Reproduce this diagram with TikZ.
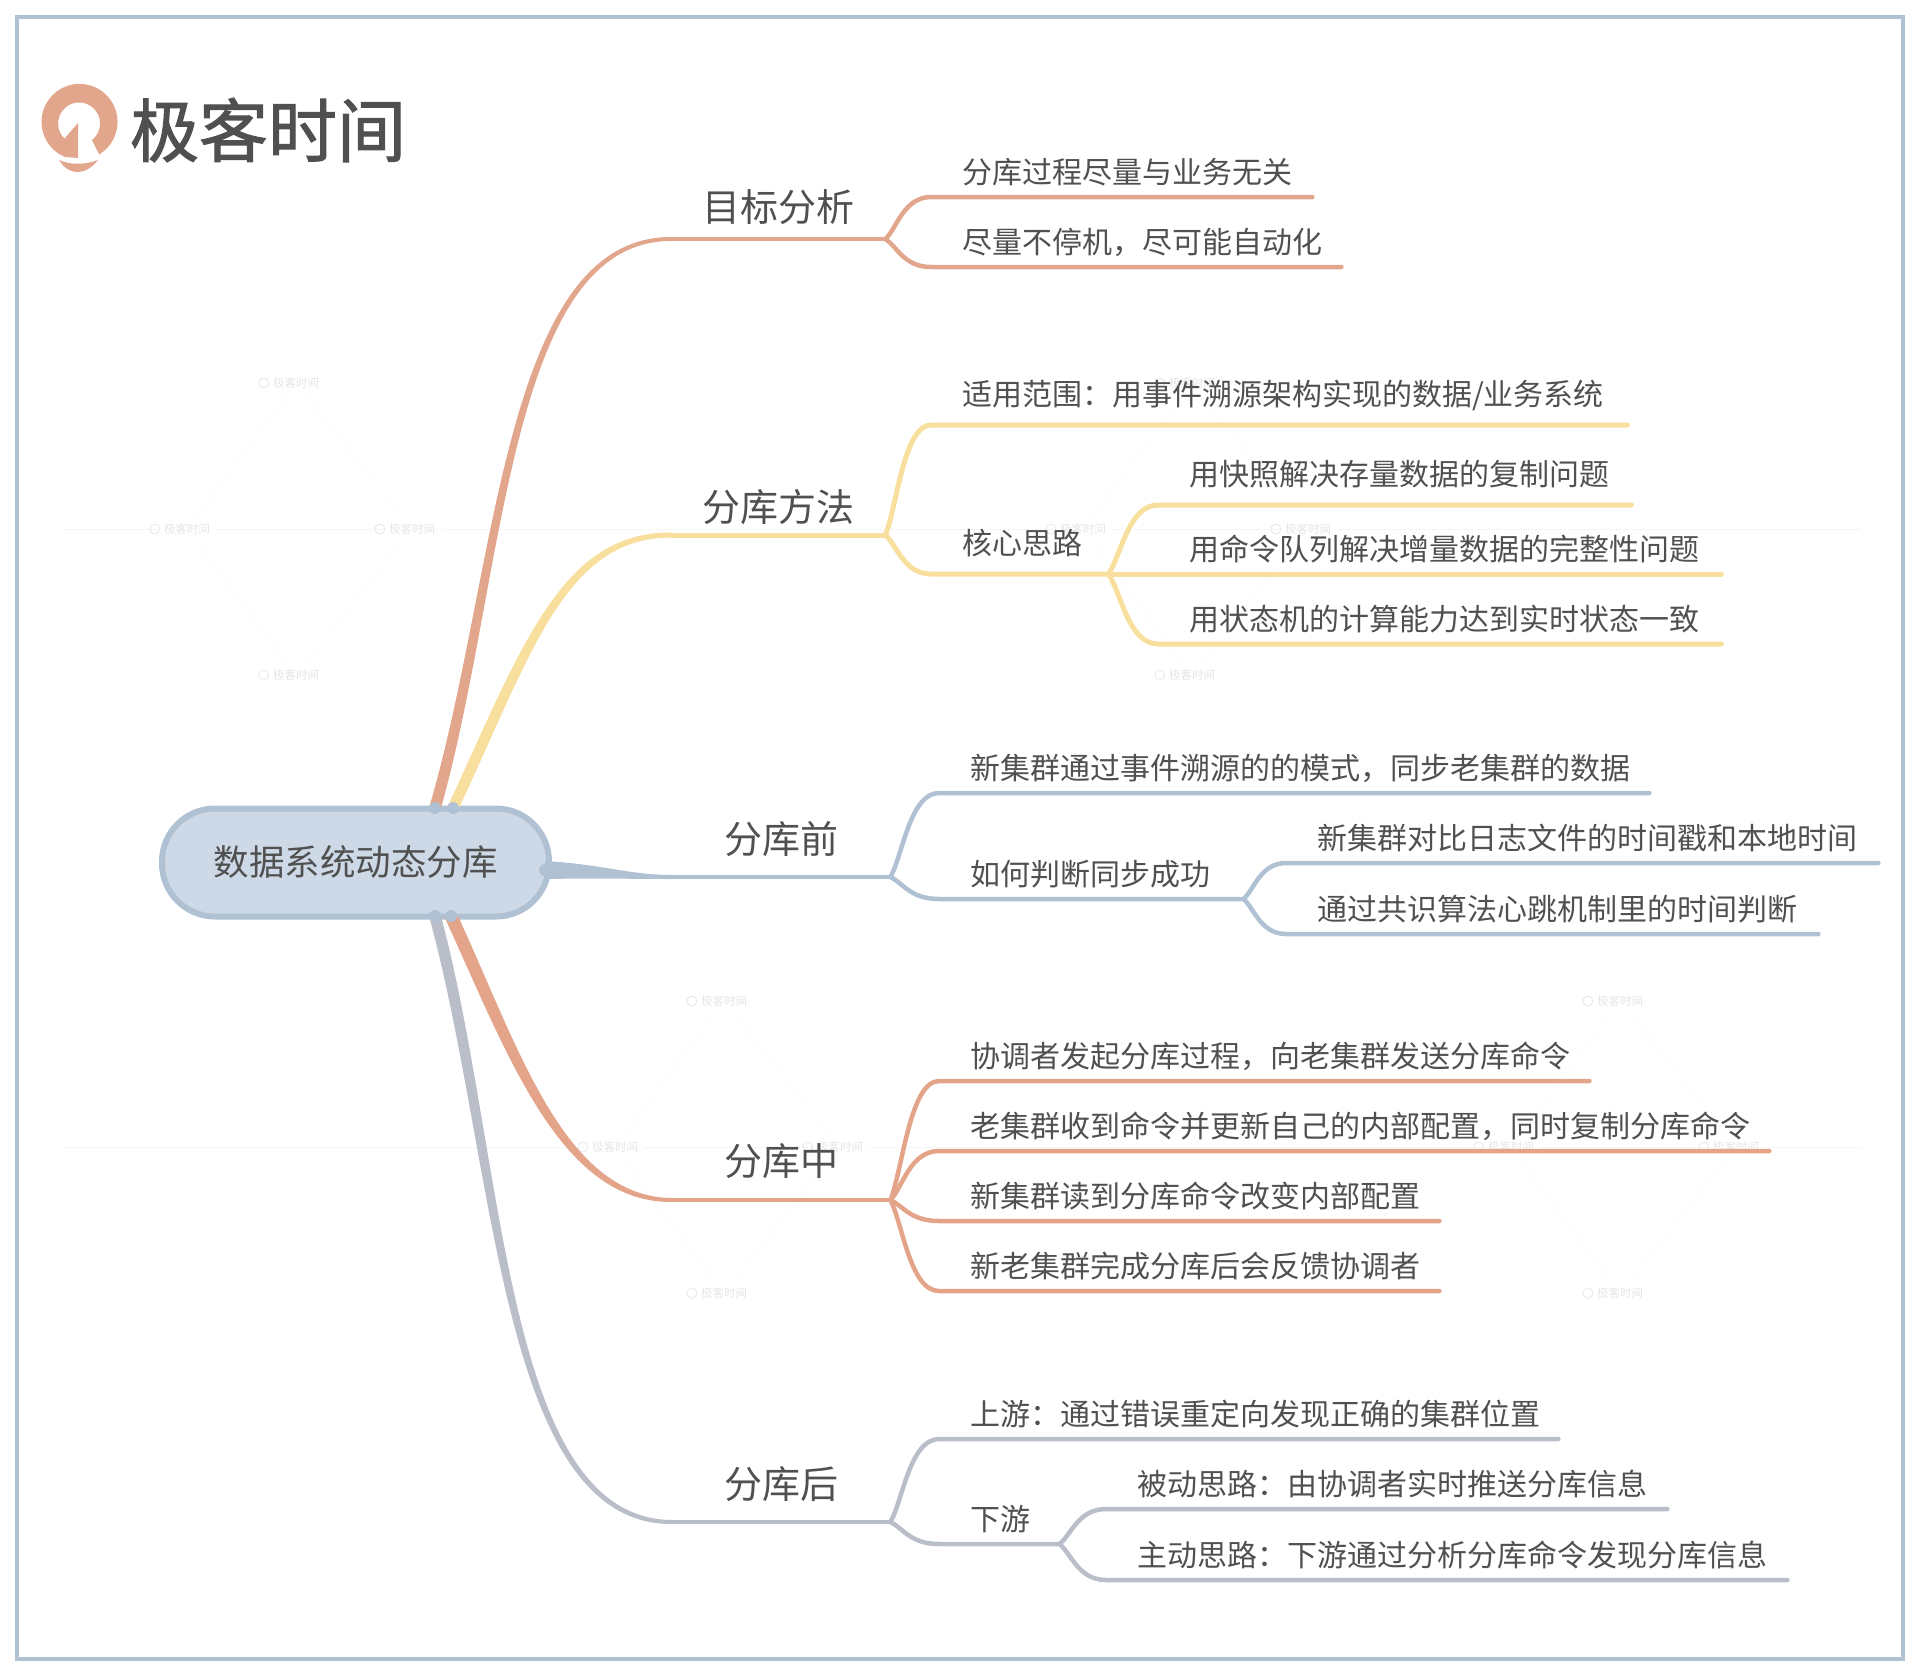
\documentclass[tikz,border=0pt]{standalone}
\usepackage{fontspec}
\setmainfont{Noto Sans CJK SC}
\newfontfamily\logofont[FakeBold=1.5]{Noto Sans CJK SC}
\usetikzlibrary{calc,positioning}
\definecolor{framecol}{HTML}{AFC1D3}
\definecolor{rootcol}{HTML}{CDD9E6}
\definecolor{textcol}{HTML}{505050}
\definecolor{redcol}{HTML}{E2A68D}
\definecolor{yellowcol}{HTML}{F8DF9D}
\definecolor{orangecol}{HTML}{E3A489}
\definecolor{greycol}{HTML}{B9BEC8}
\tikzstyle{leaf}=[inner sep=0pt,anchor=south west,align=left,text=textcol,text depth=13.5pt,font=\fontsize{30}{30}\selectfont]
\tikzstyle{tallleaf}=[leaf,text depth=19pt]
\tikzstyle{branch}=[leaf,align=center,font=\fontsize{38}{38}\selectfont]
\tikzstyle{wire}=[line width=4.5pt,line cap=round]
\tikzstyle{limb}=[to path={.. controls ($(\tikztostart)!0.25!(\tikztotarget)$) and ($(\tikztotarget)!0.6!(\tikztostart |- \tikztotarget)$) .. (\tikztotarget) \tikztonodes}]
\tikzstyle{stamp}=[text=black!10,font=\fontsize{11.5}{12}\selectfont,inner sep=6pt]
\tikzstyle{stampline}=[black!6,line width=0.6pt,densely dotted]
\begin{document}
\begin{tikzpicture}[x=1pt,y=-1pt]
\useasboundingbox (0,0) rectangle (1920,1676);
\draw[framecol,line width=4pt] (17,17) rectangle (1903,1659);
% watermarks
\foreach \i/\x/\y in {1/296/529,2/1192/529,3/724/1147,4/1620/1147} {
  \node[stamp] (T\i) at (\x,\y-146) {极客时间};
  \node[stamp] (L\i) at (\x-109,\y) {极客时间};
  \node[stamp] (R\i) at (\x+116,\y) {极客时间};
  \node[stamp] (B\i) at (\x,\y+146) {极客时间};
  \foreach \m in {T,L,R,B}
    \draw[black!10!framecol!25,line width=1pt] ($(\m\i.west)+(-3,0)$) circle (5pt);
  \draw[stampline] (T\i)--(R\i)--(B\i)--(L\i)--(T\i);
}
\coordinate (far1) at (65,529);
\coordinate (far2) at (1860,529);
\coordinate (far3) at (65,1147);
\coordinate (far4) at (1860,1147);
\draw[stampline] (far1)--(L1) (L1)--(R1) (R1)--(L2) (L2)--(R2) (R2)--(far2);
\draw[stampline] (far3)--(L3) (L3)--(R3) (R3)--(L4) (L4)--(R4) (R4)--(far4);
% logo
\fill[redcol] (78,158) -- (65,157) arc[start angle=247.5,end angle=-59,radius=38pt]
  -- (92,140) arc[start angle=-52,end angle=226,radius=21pt] -- (78,123) -- cycle;
\fill[redcol] (59,160) .. controls (70,165) and (85,165) .. (98,160) .. controls (92,168) and (84,172) .. (78,172) .. controls (70,172) and (64,168) .. (59,160) -- cycle;
\node[inner sep=0pt,text=textcol,font=\logofont\fontsize{69}{69}\selectfont] (logo) at (268,130) {极客时间};
% root
\node[draw=framecol,fill=rootcol,line width=6pt,rounded corners=53pt,minimum width=387pt,minimum height=108pt,inner sep=0pt,text=textcol,font=\fontsize{35.5}{36}\selectfont] (root) at (355.5,862.5) {数据系统动态分库};
\coordinate (rootA) at (435,808);
\coordinate (rootB) at (453,808);
\coordinate (rootC) at (545,870);
\coordinate (rootD) at (451,916);
\coordinate (rootE) at (435,916);
% branches
\foreach \n/\x/\y/\w/\d/\t in {fenxi/671/239/214/17.5/目标分析,fangfa/671/535/214/13.5/分库方法,qian/672/877/218/23.5/分库前,zhong/672/1200/218/24.5/分库中,hou/672/1522/218/23.5/分库后}
  \node[branch,text width=\w pt,text depth=\d pt] (\n) at (\x,\y) {\t};
% leaves
\foreach \n/\x/\y/\w/\t in {
  a1/931/197/381/分库过程尽量与业务无关,
  a2/931/267/410/尽量不停机，尽可能自动化,
  b4/1158/574/563/用命令队列解决增量数据的完整性问题,
  b5/1158/644/563/用状态机的计算能力达到实时状态一致,
  c1/939/793/710/新集群通过事件溯源的的模式，同步老集群的数据,
  c2/939/899/304/如何判断同步成功,
  c3/1286/863/592/新集群对比日志文件的时间戳和本地时间,
  c4/1286/934/532/通过共识算法心跳机制里的时间判断,
  d1/939/1081/650/协调者发起分库过程，向老集群发送分库命令,
  d2/939/1151/830/老集群收到命令并更新自己的内部配置，同时复制分库命令,
  d3/939/1221/500/新集群读到分库命令改变内部配置,
  d4/939/1291/500/新老集群完成分库后会反馈协调者,
  e1/939/1439/619/上游：通过错误重定向发现正确的集群位置,
  e2/939/1544/120/下游,
  e3/1106/1509/561/被动思路：由协调者实时推送分库信息,
  e4/1106/1580/681/主动思路：下游通过分析分库命令发现分库信息}
  \node[leaf,text width=\w pt] (\n) at (\x,\y) {\hspace*{31pt}\t};
\foreach \n/\x/\y/\w/\t in {
  b1/931/425/696/{适用范围：用事件溯源架构实现的数据/业务系统},
  b2/931/574/177/核心思路,
  b3/1158/505/473/用快照解决存量数据的复制问题}
  \node[tallleaf,text width=\w pt] (\n) at (\x,\y) {\hspace*{31pt}\t};
% tapered roots
\fill[redcol] ($(rootA)+(-6,0)$) .. controls (498,574) and (502,237) .. ($(fenxi.south west)+(0,-2)$) -- ($(fenxi.south west)+(0,2)$) .. controls (508,241) and (506,576) .. ($(rootA)+(6,0)$) -- cycle;
\fill[yellowcol] ($(rootB)+(-6,0)$) .. controls (522,646) and (561,532) .. ($(fangfa.south west)+(0,-2.5)$) -- ($(fangfa.south west)+(0,2.5)$) .. controls (565,538) and (532,652) .. ($(rootB)+(6,0)$) -- cycle;
\fill[framecol] ($(rootC)+(0,-9)$) .. controls (600,864) and (630,875) .. ($(qian.south west)+(0,-2)$) -- ($(qian.south west)+(0,2)$) .. controls (630,879) and (600,878) .. ($(rootC)+(0,9)$) -- cycle;
\fill[orangecol] ($(rootD)+(7,0)$) .. controls (520,1051) and (565,1197) .. ($(zhong.south west)+(0,-2)$) -- ($(zhong.south west)+(0,2)$) .. controls (560,1203) and (508,1055) .. ($(rootD)+(-7,0)$) -- cycle;
\fill[greycol] ($(rootE)+(6,0)$) .. controls (506,1161) and (504,1519) .. ($(hou.south west)+(0,-2)$) -- ($(hou.south west)+(0,2)$) .. controls (499,1525) and (497,1165) .. ($(rootE)+(-6,0)$) -- cycle;
\foreach \c in {rootA,rootB,rootC,rootD,rootE}
  \fill[framecol] (\c) circle (6pt);
% connectors
\draw[wire,redcol] (fenxi.south west)--(fenxi.south east);
\foreach \n in {a1,a2}
  \draw[wire,redcol] (fenxi.south east) to[limb] (\n.south west)--(\n.south east);
\draw[wire,yellowcol,line width=5pt] (fangfa.south west)--(fangfa.south east);
\foreach \n in {b1,b2}
  \draw[wire,yellowcol,line width=5pt] (fangfa.south east) to[limb] (\n.south west)--(\n.south east);
\foreach \n in {b3,b4,b5}
  \draw[wire,yellowcol,line width=5pt] (b2.south east) to[limb] (\n.south west)--(\n.south east);
\draw[wire,framecol] (qian.south west)--(qian.south east);
\foreach \n in {c1,c2}
  \draw[wire,framecol] (qian.south east) to[limb] (\n.south west)--(\n.south east);
\foreach \n in {c3,c4}
  \draw[wire,framecol] (c2.south east) to[limb] (\n.south west)--(\n.south east);
\draw[wire,orangecol] (zhong.south west)--(zhong.south east);
\foreach \n in {d1,d2,d3,d4}
  \draw[wire,orangecol] (zhong.south east) to[limb] (\n.south west)--(\n.south east);
\draw[wire,greycol] (hou.south west)--(hou.south east);
\foreach \n in {e1,e2}
  \draw[wire,greycol] (hou.south east) to[limb] (\n.south west)--(\n.south east);
\foreach \n in {e3,e4}
  \draw[wire,greycol] (e2.south east) to[limb] (\n.south west)--(\n.south east);
\end{tikzpicture}
\end{document}
